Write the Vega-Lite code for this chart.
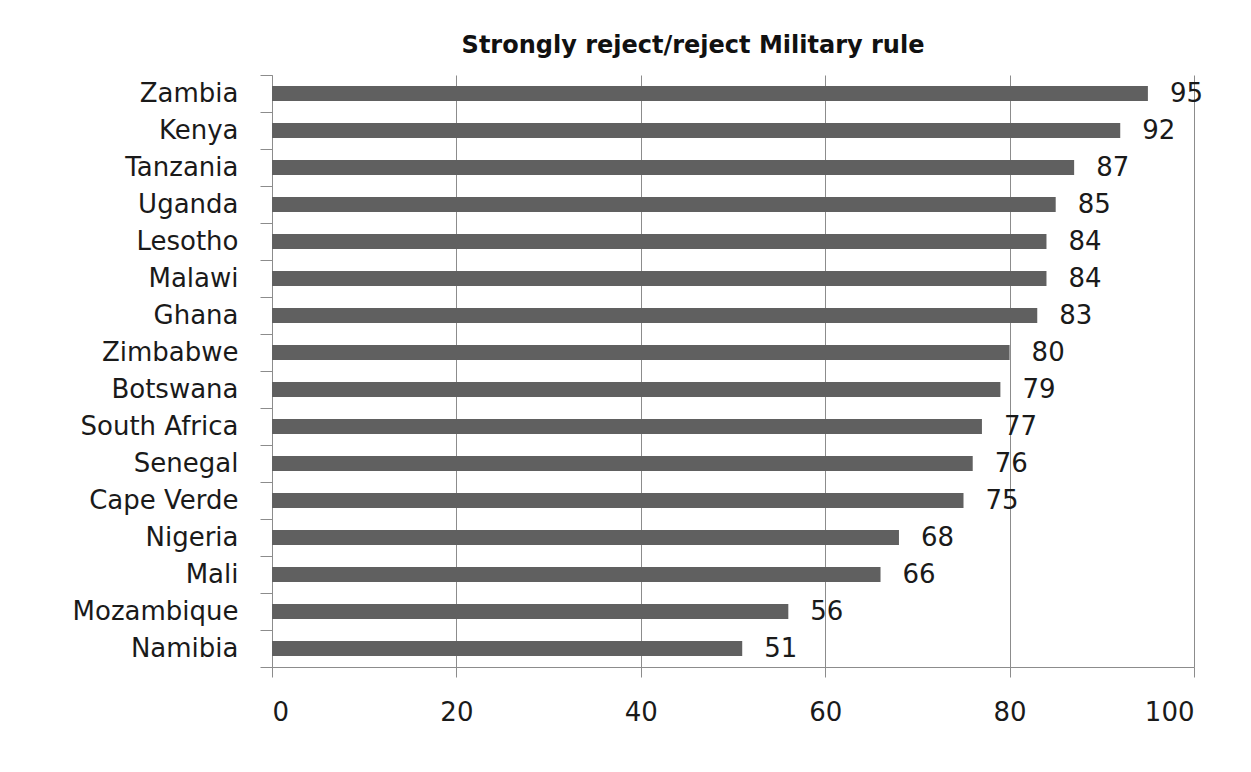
{
  "$schema": "https://vega.github.io/schema/vega-lite/v6.json",
  "autosize": {"type": "none"},
  "padding": {"left": 272, "top": 75, "right": 57, "bottom": 105},
  "width": 922,
  "height": 592,
  "background": "white",
  "config": {"view": {"stroke": null}},
  "title": {
    "text": "Strongly reject/reject Military rule",
    "font": "DejaVu Sans",
    "fontSize": 24,
    "fontWeight": "bold",
    "color": "#111111",
    "anchor": "middle",
    "frame": "group",
    "dx": -40,
    "dy": 37,
    "baseline": "alphabetic",
    "offset": 22
  },
  "data": {
    "values": [
      {"country": "Zambia", "value": 95},
      {"country": "Kenya", "value": 92},
      {"country": "Tanzania", "value": 87},
      {"country": "Uganda", "value": 85},
      {"country": "Lesotho", "value": 84},
      {"country": "Malawi", "value": 84},
      {"country": "Ghana", "value": 83},
      {"country": "Zimbabwe", "value": 80},
      {"country": "Botswana", "value": 79},
      {"country": "South Africa", "value": 77},
      {"country": "Senegal", "value": 76},
      {"country": "Cape Verde", "value": 75},
      {"country": "Nigeria", "value": 68},
      {"country": "Mali", "value": 66},
      {"country": "Mozambique", "value": 56},
      {"country": "Namibia", "value": 51}
    ]
  },
  "encoding": {
    "y": {
      "field": "country",
      "type": "nominal",
      "sort": null,
      "scale": {"paddingInner": 0, "paddingOuter": 0},
      "axis": {
        "title": null,
        "tickBand": "extent",
        "tickSize": 12,
        "tickColor": "#8c8c8c",
        "domainColor": "#8c8c8c",
        "labelFont": "DejaVu Sans",
        "labelFontSize": 26,
        "labelColor": "#1a1a1a",
        "labelPadding": 22,
        "grid": false
      }
    },
    "x": {
      "field": "value",
      "type": "quantitative",
      "scale": {"domain": [0, 100], "nice": false},
      "axis": {
        "title": null,
        "values": [0, 20, 40, 60, 80, 100],
        "grid": true,
        "gridColor": "#8c8c8c",
        "gridOpacity": 1,
        "tickSize": 10,
        "tickColor": "#8c8c8c",
        "domainColor": "#8c8c8c",
        "labelFont": "DejaVu Sans",
        "labelFontSize": 26,
        "labelColor": "#1a1a1a",
        "labelPadding": 22
      }
    }
  },
  "layer": [
    {"mark": {"type": "bar", "color": "#606060", "height": {"band": 0.4}}},
    {
      "mark": {
        "type": "text",
        "align": "left",
        "baseline": "middle",
        "dx": 22,
        "font": "DejaVu Sans",
        "fontSize": 26,
        "color": "#1a1a1a"
      },
      "encoding": {"text": {"field": "value", "type": "quantitative"}}
    }
  ]
}
